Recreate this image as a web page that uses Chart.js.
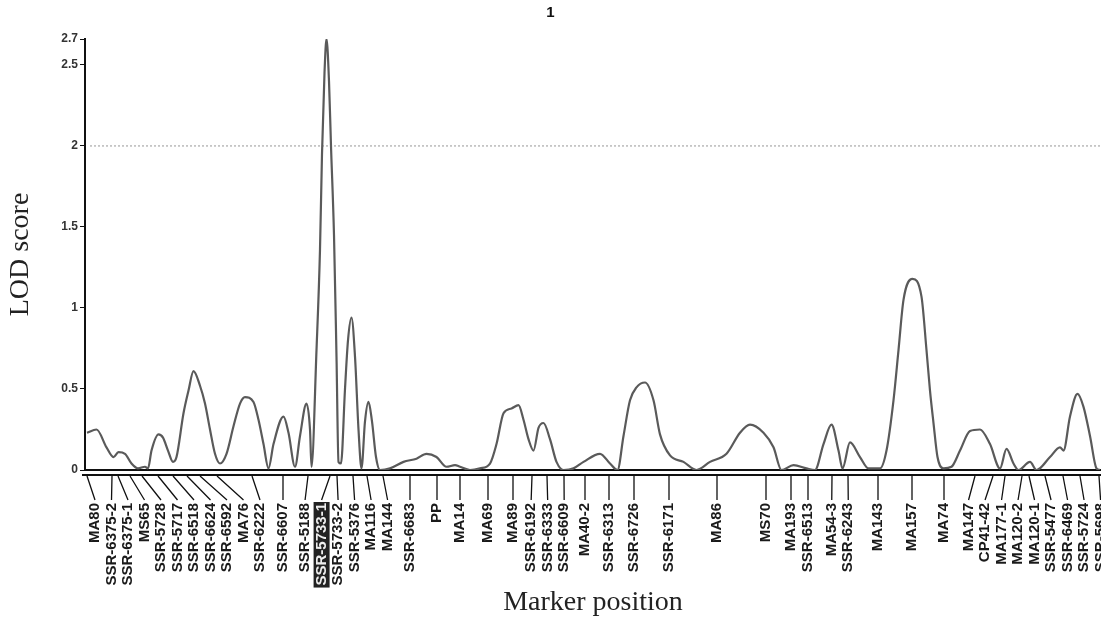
<!DOCTYPE html>
<html>
<head>
<meta charset="utf-8">
<script src="https://cdn.jsdelivr.net/npm/chart.js@4.4.1/dist/chart.umd.min.js"></script>
<style>
  html, body { margin: 0; padding: 0; background: #fff; overflow: hidden; }
  #wrap { width: 1101px; height: 620px; }
</style>
</head>
<body>
<div id="wrap"><canvas id="lodChart"></canvas></div>
<script>
// markers on the linkage group and their map position (cM)
const markerNames = [
  "MA80", "SSR-6375-2", "SSR-6375-1", "MS65", "SSR-5728", "SSR-5717", "SSR-6518", "SSR-6624",
  "SSR-6592", "MA76", "SSR-6222", "SSR-6607", "SSR-5188", "SSR-5733-1", "SSR-5733-2", "SSR-5376",
  "MA116", "MA144", "SSR-6683", "PP", "MA14", "MA69", "MA89", "SSR-6192", "SSR-6333", "SSR-6609",
  "MA40-2", "SSR-6313", "SSR-6726", "SSR-6171", "MA86", "MS70", "MA193", "SSR-6513", "MA54-3",
  "SSR-6243", "MA143", "MA157", "MA74", "MA147", "CP41-42", "MA177-1", "MA120-2", "MA120-1",
  "SSR-5477", "SSR-6469", "SSR-5724", "SSR-5698"
];
const markerPos = [
  0, 5, 6.2, 8.6, 11, 14.2, 17.2, 20,
  22.6, 26, 33, 39.2, 44.2, 48.6, 50, 53.2,
  56, 59.2, 64.6, 70, 74.6, 80.2, 85.2, 89, 92, 95.4,
  99.6, 104.4, 109.4, 116.4, 126, 135.8, 140.8, 144.2, 149,
  152.2, 158.2, 165, 171.4, 177.6, 181.2, 183.6, 187, 188.4,
  191.6, 195.2, 198.6, 202.4
];
const highlightMarker = "SSR-5733-1";

// LOD profile along the group
const lodPos = [
  0, 1.9, 3.9, 5.3, 6.3, 7.6, 8.9, 10.2, 11.6, 12.2, 12.9, 14.3, 15.2, 16.2, 17.2, 17.9,
  19.3, 20.3, 21.3, 22.6, 23.6, 24.6, 25.6, 26.6, 27.9, 29.3, 30.6, 31.6, 33.3, 34.3, 35.3,
  36.3, 37.3, 39.3, 40.3, 41.6, 42.6, 43.9, 44.6, 44.9, 45.9, 46.6, 47.0, 47.5, 47.9, 48.4,
  48.8, 49.4, 49.9, 50.3, 50.8, 51.6, 52.2, 52.9, 53.6, 54.3, 54.9, 55.6, 56.3, 57.0, 57.8,
  58.6, 60.6, 63.3, 65.9, 67.9, 69.9, 71.9, 73.6, 74.6, 76.6, 78.6, 80.6, 81.9, 83.3, 84.9,
  86.3, 87.3, 88.3, 89.3, 90.3, 91.3, 92.6, 93.9, 95.3, 97.3, 99.3, 102.6, 104.6, 106.1,
  107.3, 108.6, 109.9, 111.6, 113.3, 114.6, 116.6, 119.3, 121.9, 124.6, 127.9, 130.6, 132.6,
  135.3, 137.3, 138.9, 141.3, 143.9, 145.6, 147.3, 148.9, 150.3, 151.1, 152.6, 154.6, 156.3,
  158.6, 159.9, 161.3, 162.3, 163.3, 165.1, 166.9, 167.9, 168.6, 169.3, 170.1, 171.3, 172.9,
  174.6, 176.6, 178.6, 180.6, 182.6, 183.9, 185.3, 186.3, 188.6, 189.9, 192.6, 194.6, 195.3,
  196.6, 198.1, 199.3, 200.6, 201.9, 202.6
];
const lodScore = [
  0.23, 0.25, 0.14, 0.08, 0.11, 0.10, 0.04, 0.01, 0.02, 0.01, 0.12, 0.22, 0.20, 0.12, 0.05, 0.08,
  0.35, 0.49, 0.61, 0.52, 0.41, 0.25, 0.10, 0.04, 0.10, 0.27, 0.41, 0.45, 0.42, 0.31, 0.16,
  0.01, 0.16, 0.33, 0.23, 0.02, 0.21, 0.41, 0.25, 0.02, 0.74, 1.36, 1.95, 2.45, 2.66, 2.40,
  2.00, 1.45, 0.70, 0.05, 0.04, 0.50, 0.80, 0.94, 0.70, 0.25, 0.01, 0.30, 0.42, 0.30, 0.08,
  0.00, 0.01, 0.05, 0.07, 0.10, 0.08, 0.02, 0.03, 0.02, 0.00, 0.01, 0.04, 0.16, 0.35, 0.38,
  0.40, 0.31, 0.19, 0.12, 0.26, 0.29, 0.19, 0.05, 0.00, 0.01, 0.05, 0.10, 0.04, 0.00,
  0.21, 0.43, 0.51, 0.54, 0.43, 0.22, 0.09, 0.05, 0.00, 0.05, 0.10, 0.23, 0.28,
  0.23, 0.14, 0.00, 0.03, 0.01, 0.00, 0.16, 0.28, 0.12, 0.01, 0.17, 0.08, 0.01,
  0.01, 0.12, 0.43, 0.74, 1.05, 1.18, 1.07, 0.74, 0.49, 0.29, 0.08, 0.01, 0.02,
  0.12, 0.24, 0.25, 0.16, 0.01, 0.13, 0.04, 0.00, 0.05, 0.00, 0.08, 0.14, 0.12,
  0.33, 0.47, 0.39, 0.21, 0.01, 0.00
];

const thresholdLOD = 2;
const yTickValues = [0, 0.5, 1, 1.5, 2, 2.5];
const yMax = 2.66;
const xMin = -0.4;
const xMax = 202.8;

// spread marker labels so they don't overlap (clusters centred on their ticks)
function spreadLabels(xs, gap, minX) {
  const groups = [];
  xs.forEach(x => {
    groups.push({ n: 1, sum: x, pos0: x });
    while (true) {
      const g = groups[groups.length - 1];
      g.pos0 = Math.max(minX, g.sum / g.n - (g.n - 1) * gap / 2);
      if (groups.length < 2) break;
      const prev = groups[groups.length - 2];
      const prevEnd = prev.pos0 + (prev.n - 1) * gap;
      if (g.pos0 - prevEnd >= gap) break;
      prev.n += g.n;
      prev.sum += g.sum;
      groups.pop();
    }
  });
  const out = [];
  groups.forEach(g => {
    for (let k = 0; k < g.n; k++) out.push(g.pos0 + k * gap);
  });
  return out;
}

// draws the marker ticks, leader lines and vertical names under the axis
const markerAxis = {
  id: "markerAxis",
  afterDraw(chart) {
    const ctx = chart.ctx;
    const xs = chart.scales.x;
    const area = chart.chartArea;
    const y0 = area.bottom;
    const tickX = markerPos.map(p => xs.getPixelForValue(p));
    const labelX = spreadLabels(tickX, 16.5, 95);

    ctx.save();
    // second rule of the double axis line
    ctx.strokeStyle = "#111";
    ctx.lineWidth = 2;
    ctx.beginPath();
    ctx.moveTo(area.left - 3, y0 + 5);
    ctx.lineTo(area.right, y0 + 5);
    ctx.stroke();

    ctx.lineWidth = 1.3;
    ctx.beginPath();
    tickX.forEach((tx, i) => {
      ctx.moveTo(tx, y0 + 6);
      ctx.lineTo(labelX[i], y0 + 30);
    });
    ctx.stroke();

    ctx.font = "bold 15px 'Liberation Sans', Arial, sans-serif";
    ctx.textAlign = "right";
    ctx.textBaseline = "middle";
    markerNames.forEach((name, i) => {
      const w = ctx.measureText(name).width;
      ctx.save();
      ctx.translate(labelX[i], y0 + 33);
      ctx.rotate(-Math.PI / 2);
      if (name === highlightMarker) {
        ctx.fillStyle = "#222";
        ctx.fillRect(-w - 2, -8, w + 3, 16);
        ctx.fillStyle = "#eee";
      } else {
        ctx.fillStyle = "#1a1a1a";
      }
      ctx.fillText(name, 0, 0);
      ctx.restore();
    });
    ctx.restore();
  }
};

new Chart(document.getElementById("lodChart"), {
  type: "line",
  data: {
    datasets: [
      {
        data: lodPos.map((p, i) => ({ x: p, y: lodScore[i] })),
        borderColor: "#5a5a5a",
        borderWidth: 2.2,
        pointRadius: 0,
        cubicInterpolationMode: "monotone",
        fill: false
      },
      {
        data: [{ x: 0.6, y: thresholdLOD }, { x: xMax, y: thresholdLOD }],
        borderColor: "#a8a8a8",
        borderWidth: 1.2,
        borderDash: [2, 2],
        pointRadius: 0
      }
    ]
  },
  options: {
    responsive: true,
    maintainAspectRatio: false,
    animation: false,
    layout: { padding: 0 },
    plugins: {
      legend: { display: false },
      tooltip: { enabled: false },
      title: {
        display: true,
        text: "1",
        color: "#111",
        font: { family: "'Liberation Sans', Arial, sans-serif", size: 15, weight: "bold" },
        padding: { top: 4, bottom: 17 }
      }
    },
    scales: {
      x: {
        type: "linear",
        min: xMin,
        max: xMax,
        grid: { display: false },
        ticks: { display: false },
        border: { display: true, color: "#111", width: 2 },
        title: {
          display: true,
          text: "Marker position",
          color: "#222",
          font: { family: "'Liberation Serif', 'Times New Roman', serif", size: 28 },
          padding: { top: 0, bottom: 1 }
        },
        afterFit(scale) { scale.height = 150; }
      },
      y: {
        min: 0,
        max: yMax,
        afterBuildTicks(scale) {
          scale.ticks = yTickValues.concat([yMax]).map(v => ({ value: v }));
        },
        ticks: {
          color: "#333",
          font: { family: "'Liberation Sans', Arial, sans-serif", size: 12, weight: "bold" },
          padding: 2,
          callback: v => String(Number(v.toFixed(1)))
        },
        grid: { drawOnChartArea: false, tickLength: 5, color: "#111" },
        border: { display: true, color: "#111", width: 2 },
        title: {
          display: true,
          text: "LOD score",
          color: "#222",
          font: { family: "'Liberation Serif', 'Times New Roman', serif", size: 28 },
          padding: { top: 4, bottom: 0 }
        },
        afterFit(scale) { scale.width = 85; }
      }
    }
  },
  plugins: [markerAxis]
});
</script>
</body>
</html>
